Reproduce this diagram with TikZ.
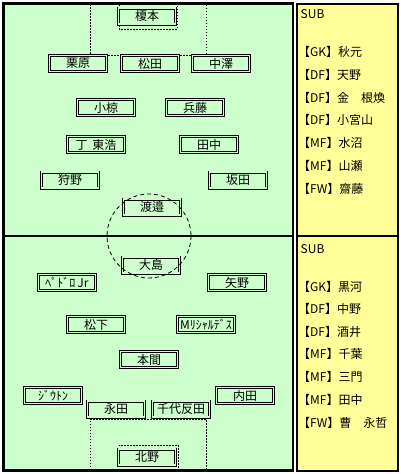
\documentclass[tikz,border=0pt]{standalone}
\usepackage{fontspec}
\setmainfont{Noto Sans CJK JP}
\definecolor{fieldgreen}{HTML}{CCFFCC}
\definecolor{subyellow}{HTML}{FFFF99}
\begin{document}
\begin{tikzpicture}[x=1pt,y=-1pt,
  player/.style={draw=black, line width=0.8pt, double=fieldgreen, double distance=1.4pt,
    fill=fieldgreen, minimum width=57pt, minimum height=16pt, inner sep=0pt,
    font=\fontsize{12}{12}\selectfont},
  subtext/.style={anchor=west, inner sep=0pt, font=\fontsize{12}{12}\selectfont},
  arealine/.style={line width=0.8pt, dash pattern=on 1.5pt off 1.5pt},
  circleline/.style={line width=0.8pt, dash pattern=on 4pt off 3pt}]
\useasboundingbox (0,0) rectangle (400,474);
\fill[white] (0,0) rectangle (400,474);
% field
\fill[fieldgreen] (3.5,3.5) rectangle (293,470.5);
\fill[subyellow] (296.5,3.5) rectangle (397.5,470.5);
% areas
\draw[arealine] (90,4) -- (90,55) -- (206,55) -- (206,4);
\draw[arealine] (119,4) -- (119,29) -- (177,29) -- (177,4);
\draw[arealine] (90,470) -- (90,419) -- (206,419) -- (206,470);
\draw[arealine] (119,470) -- (119,445) -- (178,445) -- (178,470);
% players
\node[player] (enomoto) at (147,16) {榎本};
\node[player] (kurihara) at (78,63.5) {栗原};
\node[player] (matsuda) at (150,63.5) {松田};
\node[player] (nakazawa) at (221,63.5) {中澤};
\node[player] (ogura) at (106,107.5) {小椋};
\node[player] (hyodo) at (195,107.5) {兵藤};
\node[player] (jong) at (96,144.5) {丁\ \,東浩};
\node[player] (tanakaY) at (209,144.5) {田中};
\node[player] (kano) at (70,180) {狩野};
\node[player] (sakata) at (238,180) {坂田};
\node[player] (watanabe) at (152,207) {渡邉};
\node[player] (oshima) at (151,265) {大島};
\node[player] (pedro) at (67,282.5) {ﾍﾟﾄﾞﾛ\,Jr};
\node[player] (yano) at (237,282.5) {矢野};
\node[player] (matsushita) at (96,324.5) {松下};
\node[player] (richardes) at (206,324.5) {Mﾘｼｬﾙﾃﾞｽ};
\node[player] (homma) at (149,359.5) {本間};
\node[player] (jiuton) at (53,395.5) {ｼﾞｳﾄﾝ};
\node[player] (uchida) at (245,395.5) {内田};
\node[player] (nagata) at (116,409) {永田};
\node[player] (chiyotanda) at (181,409) {千代反田};
\node[player] (kitano) at (147,457) {北野};
% centre circle
\draw[circleline] (149,236) circle[radius=42];
% borders
\draw[line width=2.5pt] (3.5,3.5) rectangle (293,470.5);
\draw[line width=2pt] (3.5,236) -- (293,236);
\draw[line width=2pt] (296.5,3.5) rectangle (397.5,470.5);
\draw[line width=2pt] (296.5,236) -- (397.5,236);
% subs upper
\node[subtext] (subA) at (300.5,14) {SUB};
\node[subtext] (a1) at (298,52) {【GK】秋元};
\node[subtext] (a2) at (298,74.5) {【DF】天野};
\node[subtext] (a3) at (298,97.5) {【DF】金　根煥};
\node[subtext] (a4) at (298,120) {【DF】小宮山};
\node[subtext] (a5) at (298,143) {【MF】水沼};
\node[subtext] (a6) at (298,166) {【MF】山瀬};
\node[subtext] (a7) at (298,188.5) {【FW】齋藤};
% subs lower
\node[subtext] (subB) at (300.5,249) {SUB};
\node[subtext] (b1) at (298,286.5) {【GK】黒河};
\node[subtext] (b2) at (298,308.5) {【DF】中野};
\node[subtext] (b3) at (298,331.5) {【DF】酒井};
\node[subtext] (b4) at (298,354) {【MF】千葉};
\node[subtext] (b5) at (298,377) {【MF】三門};
\node[subtext] (b6) at (298,400) {【MF】田中};
\node[subtext] (b7) at (298,423) {【FW】曹　永哲};
\end{tikzpicture}
\end{document}
